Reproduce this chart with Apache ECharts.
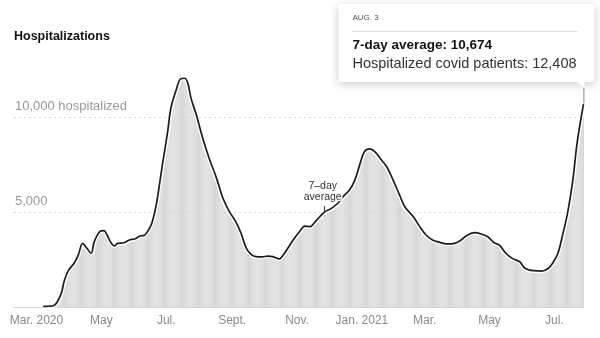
<!DOCTYPE html>
<html><head><meta charset="utf-8">
<script src="https://cdn.jsdelivr.net/npm/echarts@6/dist/echarts.min.js"></script>
<style>html,body{margin:0;padding:0;background:#fff}#c{width:600px;height:338px}</style>
</head><body><div id="c"></div>
<script>
// ---- data ----
const startDate = '2020-02-15';
const endDate = '2021-08-03';
const tickDates = ['2020-03-01','2020-05-01','2020-07-01','2020-09-01','2020-11-01','2021-01-01','2021-03-01','2021-05-01','2021-07-01'];
const tickLabels = ['Mar. 2020','May','Jul.','Sept.','Nov.','Jan. 2021','Mar.','May','Jul.'];
const yTickValues = [5000, 10000];
const yTickLabels = ['5,000', '10,000 hospitalized'];

const lineDates = ['2020-03-13','2020-03-18','2020-03-23','2020-03-26','2020-03-30','2020-04-02','2020-04-06','2020-04-11','2020-04-15','2020-04-19','2020-04-23','2020-04-27','2020-04-30','2020-05-05','2020-05-09','2020-05-12','2020-05-16','2020-05-19','2020-05-22','2020-05-28','2020-06-02','2020-06-07','2020-06-12','2020-06-16','2020-06-19','2020-06-23','2020-06-27','2020-06-30','2020-07-03','2020-07-08','2020-07-11','2020-07-16','2020-07-20','2020-07-24','2020-07-27','2020-07-30','2020-08-04','2020-08-10','2020-08-16','2020-08-23','2020-08-29','2020-09-04','2020-09-10','2020-09-15','2020-09-20','2020-09-25','2020-09-29','2020-10-05','2020-10-10','2020-10-15','2020-10-21','2020-10-24','2020-10-29','2020-11-03','2020-11-09','2020-11-14','2020-11-19','2020-11-23','2020-11-28','2020-12-03','2020-12-09','2020-12-15','2020-12-20','2020-12-26','2020-12-31','2021-01-05','2021-01-09','2021-01-14','2021-01-19','2021-01-25','2021-01-30','2021-02-05','2021-02-11','2021-02-16','2021-02-24','2021-03-02','2021-03-08','2021-03-14','2021-03-21','2021-03-27','2021-04-04','2021-04-10','2021-04-16','2021-04-23','2021-04-29','2021-05-05','2021-05-11','2021-05-16','2021-05-22','2021-05-28','2021-06-04','2021-06-09','2021-06-17','2021-06-25','2021-07-01','2021-07-05','2021-07-10','2021-07-14','2021-07-19','2021-07-24','2021-07-28','2021-08-03'];
const lineValues = [30,40,80,250,720,1420,1950,2300,2740,3350,3090,2830,3440,3960,4020,3790,3350,3210,3350,3380,3530,3580,3740,3770,3960,4400,5300,6330,7470,9230,10460,11420,12000,12040,11770,10980,10100,8880,7830,6770,5720,5020,4490,3880,3090,2740,2650,2640,2680,2650,2530,2680,3090,3530,3960,4260,4230,4440,4750,5020,5190,5460,5810,6160,6680,7560,8170,8320,8170,7740,7380,6680,5900,5280,4750,4230,3790,3530,3400,3320,3350,3530,3790,3910,3840,3700,3380,3260,2830,2560,2380,2040,1910,1890,2040,2300,2830,3700,4930,6680,8620,10674];

const barRowStarts = ['2020-03-26','2020-04-01','2020-05-01','2020-06-01','2020-07-01','2020-08-01','2020-09-01','2020-10-01','2020-11-01','2020-12-01','2021-01-01','2021-02-01','2021-03-01','2021-04-01','2021-05-01','2021-06-01','2021-07-01','2021-08-01'];
const barRows = [
 [200,330,470,600,760,1000],
 [1250,1450,1600,1750,1870,1980,2060,2130,2200,2260,2320,2400,2500,2620,2780,2950,3150,3350,3400,3300,3220,3150,3080,3000,2920,2850,2880,3050,3250,3500],
 [3800,3900,3950,4000,4050,4100,4050,4000,3950,3900,3800,3700,3550,3400,3300,3250,3150,3200,3250,3300,3350,3350,3300,3350,3400,3400,3350,3400,3450,3500,3500],
 [3500,3550,3550,3600,3550,3600,3600,3650,3700,3700,3750,3750,3750,3800,3800,3850,3900,3950,4050,4150,4300,4400,4600,4800,5050,5300,5600,5900,6300,6700],
 [7200,7500,7800,8200,8500,8900,9300,9700,10000,10400,10700,10900,11100,11300,11500,11600,11800,12000,12100,12300,12100,12000,12000,11900,11800,11700,11500,11300,11000,10800,10550],
 [10300,10200,10050,9900,9700,9500,9300,9100,8900,8700,8550,8350,8200,8000,7850,7700,7550,7400,7250,7100,6950,6800,6600,6450,6300,6100,5950,5750,5600,5450,5350],
 [5250,5150,5050,4950,4850,4750,4700,4600,4500,4400,4300,4150,4000,3850,3700,3550,3400,3250,3100,3000,2950,2900,2800,2750,2700,2700,2650,2650,2650,2650],
 [2650,2650,2640,2640,2650,2660,2670,2680,2690,2680,2670,2660,2650,2640,2620,2600,2580,2560,2540,2530,2540,2580,2650,2730,2810,2900,3000,3100,3200,3300,3400],
 [3450,3550,3650,3720,3800,3870,3940,4000,4060,4120,4180,4240,4280,4300,4280,4260,4250,4270,4300,4350,4400,4460,4520,4580,4640,4700,4760,4820,4880,4940],
 [4980,5020,5060,5100,5130,5160,5190,5220,5250,5290,5330,5380,5430,5480,5540,5610,5680,5760,5840,5900,5960,6020,6080,6140,6200,6230,6300,6420,6540,6680,6850],
 [7050,7220,7400,7580,7730,7880,8030,8170,8250,8300,8330,8350,8350,8330,8300,8260,8220,8170,8120,8050,7980,7900,7830,7760,7680,7610,7540,7460,7380,7300,7180],
 [7050,6930,6810,6700,6580,6450,6320,6190,6060,5930,5800,5680,5550,5430,5300,5200,5130,5070,5000,4940,4870,4800,4740,4660,4580,4500,4410,4320],
 [4250,4160,4080,4000,3930,3860,3800,3740,3690,3640,3600,3560,3530,3500,3480,3460,3440,3420,3400,3390,3380,3370,3360,3350,3340,3330,3320,3320,3320,3330,3330],
 [3340,3350,3360,3380,3410,3440,3470,3510,3550,3590,3640,3690,3740,3780,3820,3850,3870,3890,3900,3910,3920,3920,3910,3900,3890,3870,3850,3830,3800,3780],
 [3760,3740,3710,3670,3620,3570,3520,3470,3420,3370,3330,3300,3270,3240,3200,3150,3080,3000,2930,2860,2800,2750,2700,2660,2620,2580,2540,2510,2480,2450,2430],
 [2410,2380,2340,2290,2230,2170,2110,2060,2020,1990,1970,1950,1940,1930,1920,1910,1900,1890,1880,1880,1880,1880,1880,1890,1900,1910,1930,1960,2000,2050],
 [2060,2120,2190,2250,2330,2430,2540,2650,2760,2890,3100,3320,3540,3770,4010,4260,4500,4750,5010,5360,5710,6060,6410,6770,7250,7740,8220,8700,9050,9400,9750],
 [10100,10450,12408]
];
const tooltipDate = 'AUG. 3';
const annotationDate = '2020-12-02';
const annotationValue = 5000;

// ---- build ----
function addDays(s, n){ const d = new Date(s + 'T00:00:00Z'); d.setUTCDate(d.getUTCDate() + n); return d.toISOString().slice(0, 10); }
const categories = [];
for (let d = startDate; d <= endDate; d = addDays(d, 1)) categories.push(d);
const idx = {}; categories.forEach((d, i) => { idx[d] = i; });
const barData = categories.map(() => null);
barRows.forEach((row, r) => { const s = idx[barRowStarts[r]]; row.forEach((v, k) => { if (s + k < barData.length) barData[s + k] = v; }); });
const lineData = lineDates.map((d, i) => [idx[d], lineValues[i]]);
const fmt = v => v.toLocaleString('en-US');
const FONT = '"Liberation Sans", Arial, sans-serif';

const chart = echarts.init(document.getElementById('c'), null, {renderer: 'canvas'});
const option = {
  animation: false,
  title: { text: 'Hospitalizations', left: 14, top: 30, padding: 0,
    textStyle: { fontFamily: FONT, fontSize: 12.5, fontWeight: 'bold', color: '#121212' } },
  grid: { left: 14, right: 16, top: 22, bottom: 31 },
  xAxis: {
    type: 'category', data: categories, boundaryGap: true,
    axisLine: { lineStyle: { color: '#d4d4d4', width: 1 } },
    axisTick: { alignWithLabel: true, interval: (i, v) => tickDates.includes(v), length: 4, lineStyle: { color: '#aaa' } },
    axisLabel: { interval: (i, v) => tickDates.includes(v), formatter: v => tickLabels[tickDates.indexOf(v)] || '',
      color: '#8a8a8a', fontSize: 12, margin: 8, fontFamily: FONT, padding: [0, 0, 0, 12] },
    splitLine: { show: false }
  },
  yAxis: {
    type: 'value', min: 0, max: 15000, interval: 5000,
    axisLine: { show: false }, axisTick: { show: false },
    splitLine: { show: true, lineStyle: { color: ['rgba(0,0,0,0)', '#d6d6d6', '#d6d6d6', 'rgba(0,0,0,0)'], type: [2, 3], width: 1 } },
    axisLabel: { inside: true, margin: 1, verticalAlign: 'bottom', padding: [0, 0, 4, 0], color: '#9a9a9a', fontSize: 13, fontFamily: FONT,
      formatter: v => { const k = yTickValues.indexOf(v); return k >= 0 ? yTickLabels[k] : ''; } }
  },
  series: [
    { type: 'bar', data: barData, barCategoryGap: '18%', itemStyle: { color: '#d7d7d7' }, silent: true, clip: false },
    { type: 'line', data: lineData, smooth: 0.35, symbol: 'none', silent: true, clip: false,
      lineStyle: { color: '#ffffff', width: 4.5 }, z: 3 },
    { type: 'line', data: lineData, smooth: 0.35, symbol: 'none', silent: true, clip: false,
      lineStyle: { color: '#1c1c1c', width: 1.7 }, z: 4 }
  ]
};
chart.setOption(option);

// tooltip-like callout & annotation, positioned from data
const last = lineData[lineData.length - 1];
const [px, py] = chart.convertToPixel({ xAxisIndex: 0, yAxisIndex: 0 }, last);
const lastBar = barData[barData.length - 1];
const boxW = 256, boxH = 78, boxR = px + 11, boxL = boxR - boxW, boxT = 4;
const [ax, ay] = chart.convertToPixel({ xAxisIndex: 0, yAxisIndex: 0 }, [idx[annotationDate], annotationValue]);

chart.setOption({
  graphic: [
    { type: 'line', z: 99, shape: { x1: px + 0.5, y1: boxT + boxH + 6, x2: px + 0.5, y2: py - 1 }, style: { stroke: '#999', lineWidth: 1 } },
    { type: 'rect', z: 100, shape: { x: boxL, y: boxT, width: boxW, height: boxH, r: 3 },
      style: { fill: '#fff', shadowBlur: 10, shadowColor: 'rgba(0,0,0,0.22)', shadowOffsetY: 2 } },
    { type: 'polygon', z: 101, shape: { points: [[px - 8, boxT + boxH - 1], [px + 1, boxT + boxH - 1], [px + 1, boxT + boxH + 6]] },
      style: { fill: '#fff' } },
    { type: 'text', z: 102, x: boxL + 14, y: boxT + 13.7, style: { text: tooltipDate, fill: '#555', font: '8px ' + FONT, verticalAlign: 'middle' } },
    { type: 'line', z: 102, shape: { x1: boxL + 14, y1: boxT + 27.5, x2: boxR - 17, y2: boxT + 27.5 }, style: { stroke: '#dcdcdc', lineWidth: 1 } },
    { type: 'text', z: 102, x: boxL + 14, y: boxT + 41, style: { text: '7-day average: ' + fmt(last[1]), fill: '#121212', font: 'bold 13.5px ' + FONT, verticalAlign: 'middle' } },
    { type: 'text', z: 102, x: boxL + 14, y: boxT + 59.5, style: { text: 'Hospitalized covid patients: ' + fmt(lastBar), fill: '#333', font: '14.5px ' + FONT, verticalAlign: 'middle' } },
    { type: 'line', z: 50, shape: { x1: ax + 0.5, y1: ay - 6, x2: ax + 0.5, y2: ay }, style: { stroke: '#333', lineWidth: 1 } },
    { type: 'text', z: 50, x: ax - 1.3, y: ay - 26, style: { text: '7–day', fill: '#333', font: '10.5px ' + FONT, align: 'center', verticalAlign: 'middle', stroke: '#fff', lineWidth: 2.5 } },
    { type: 'text', z: 50, x: ax - 1.3, y: ay - 14.5, style: { text: 'average', fill: '#333', font: '10.5px ' + FONT, align: 'center', verticalAlign: 'middle', stroke: '#fff', lineWidth: 2.5 } }
  ]
});
</script>
</body></html>
